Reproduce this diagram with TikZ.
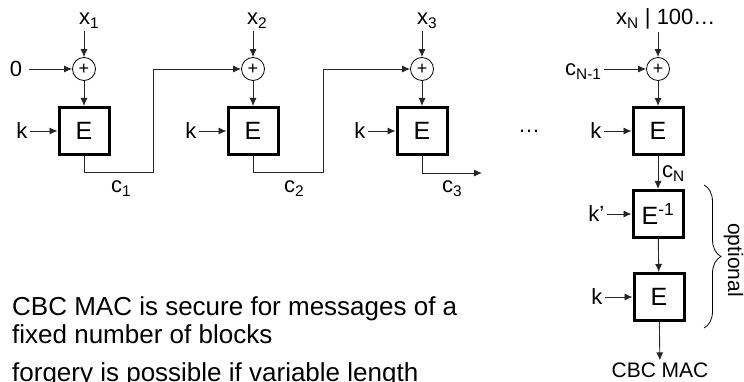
\documentclass[tikz,border=0pt]{standalone}
\usepackage{fontspec}
\setmainfont{Liberation Sans}
\usetikzlibrary{arrows.meta, positioning, decorations.pathreplacing}

\begin{document}
\begin{tikzpicture}[x=1pt, y=-1pt, font=\fontsize{22}{26}\selectfont, inner sep=2pt,
        blk/.style={draw, line width=3pt, minimum width=50pt, minimum height=47pt, inner sep=0pt, font=\fontsize{25}{28}\selectfont},
        xorc/.style={draw, circle, line width=0.8pt, minimum size=23pt, inner sep=0pt, font=\fontsize{18}{18}\selectfont},
        arr/.style={-{Latex[length=8pt,width=7pt]}, line width=0.9pt, black!85},
        txt/.style={anchor=base west, inner sep=0pt, font=\fontsize{26}{28}\selectfont}]
        \useasboundingbox (0,0) rectangle (744,382);

        % first block
        \node[xorc] (p1) at (84,69) {+};
        \node[blk] (e1) at (84,131) {E};
        \node[anchor=base west] (x1) at (77,25) {x\textsubscript{1}};
        \node (zero) at (16,69) {0};
        \node[left=28pt of e1] (k1) {k};
        \draw[arr] (x1.south -| p1) -- (p1);
        \draw[arr] (zero.east) ++(5,0) -- (p1);
        \draw[arr] (p1) -- (e1);
        \draw[arr] (k1) -- (e1);

        % second block
        \node[xorc] (p2) at (253,69) {+};
        \node[blk] (e2) at (253,131) {E};
        \node[anchor=base west] (x2) at (245,25) {x\textsubscript{2}};
        \node[left=28pt of e2] (k2) {k};
        \draw[arr] (x2.south -| p2) -- (p2);
        \draw[arr] (p2) -- (e2);
        \draw[arr] (k2) -- (e2);

        % third block
        \node[xorc] (p3) at (422,69) {+};
        \node[blk] (e3) at (422,131) {E};
        \node[anchor=base west] (x3) at (415,25) {x\textsubscript{3}};
        \node[left=28pt of e3] (k3) {k};
        \draw[arr] (x3.south -| p3) -- (p3);
        \draw[arr] (p3) -- (e3);
        \draw[arr] (k3) -- (e3);

        % chaining
        \coordinate (t1) at (153,172);
        \coordinate (t2) at (323,172);
        \coordinate (c3end) at (482,173);
        \draw[arr] (e1.south) |- (t1) |- (p2.west);
        \draw[arr] (e2.south) |- (t2) |- (p3.west);
        \draw[arr] (e3.south) |- (c3end);
        \node[anchor=base west] (c1) at (109,193) {c\textsubscript{1}};
        \node[anchor=base west] (c2) at (282,193) {c\textsubscript{2}};
        \node[anchor=base west] (c3) at (440,193) {c\textsubscript{3}};

        \node[anchor=base] (dots) at (529,133) {\dots};

        % last block
        \node[xorc] (pN) at (658,69) {+};
        \node[blk] (eN) at (658,131) {E};
        \node[anchor=base west] (xN) at (614,25) {x\textsubscript{N} | 100…};
        \node[anchor=base west] (cNm1) at (563,76) {c\textsubscript{N-1}};
        \node[left=28pt of eN] (kN) {k};
        \draw[arr] (xN.south -| pN) -- (pN);
        \draw[arr] (cNm1.east |- pN) -- (pN);
        \draw[arr] (pN) -- (eN);
        \draw[arr] (kN) -- (eN);

        % optional part
        \node[blk] (einv) at (658,214) {E\textsuperscript{-1}};
        \node[blk] (efin) at (659,297) {E};
        \node[left=25pt of einv] (kp) {k’};
        \node[left=28pt of efin] (kf) {k};
        \node[font=\fontsize{21}{25}\selectfont] (mac) at (660,370) {CBC MAC};
        \draw[arr] (eN) -- (einv);
        \node[anchor=base west] (cN) at (660,178) {c\textsubscript{N}};
        \draw[arr] (kp) -- (einv);
        \draw[arr] (einv) -- (efin);
        \draw[arr] (kf) -- (efin);
        \draw[arr] (efin) -- (mac);

        \coordinate (brtop) at (704,185);
        \coordinate (brbot) at (704,328);
        \draw[decorate, decoration={brace, amplitude=17pt}, line width=0.8pt] (brtop) -- (brbot);
        \node[rotate=-90, font=\fontsize{21}{25}\selectfont] (opt) at (733.5,260) {optional};

        % remarks
        \node[txt] (fact1) at (12,315) {CBC MAC is secure for messages of a};
        \node[txt] (fact2) at (12,343) {fixed number of blocks};
        \node[txt] (fact3) at (12,381) {forgery is possible if variable length};
\end{tikzpicture}
\end{document}
